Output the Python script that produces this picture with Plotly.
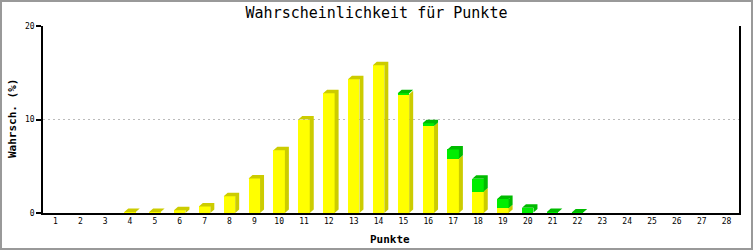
import plotly.graph_objects as go

# ---------------- data ----------------
punkte = list(range(1, 29))
gelb = [0, 0, 0, 0.1, 0.1, 0.3, 0.7, 1.8, 3.7, 6.7, 10.0, 12.8, 14.3, 15.8,
        12.7, 9.3, 5.8, 2.3, 0.5, 0.05, 0, 0, 0, 0, 0, 0, 0, 0]
gruen = [0, 0, 0, 0, 0, 0, 0, 0, 0, 0, 0, 0, 0, 0,
         0.1, 0.3, 1.0, 1.35, 1.0, 0.5, 0.1, 0.05, 0, 0, 0, 0, 0, 0]
y_ticks = [0, 10, 20]

# ---------------- layout constants ----------------
W, H = 753, 250
L, R, T, B = 43, 14, 26, 37
PW, PH = W - L - R, H - T - B
XMIN, XMAX = 0.5, 28.5
YMIN, YMAX = 0, 20
px_x = PW / (XMAX - XMIN)
px_y = PH / (YMAX - YMIN)

BW = 11.5 / px_x          # front face width
HW = BW / 2
DX = 4 / px_x             # depth offset
DY = 3.5 / px_y

FONT = "DejaVu Sans Mono"
YEL, YEL_D = "#FFFF00", "#CCCC00"
GRN, GRN_D = "#00EE00", "#00BB00"


def side(x, y0, y1, xs, ys):
    xs += [x + HW, x + HW + DX, x + HW + DX, x + HW, x + HW, None]
    ys += [y0, y0 + DY, y1 + DY, y1, y0, None]


def top(x, y, xs, ys):
    xs += [x - HW, x - HW + DX, x + HW + DX, x + HW, x - HW, None]
    ys += [y, y + DY, y + DY, y, y, None]


ys_x, ys_y, gs_x, gs_y = [], [], [], []
for x, g, gr in zip(punkte, gelb, gruen):
    if g > 0:
        side(x, 0, g, ys_x, ys_y)
        if gr == 0:
            top(x, g, ys_x, ys_y)
    if gr > 0:
        side(x, g, g + gr, gs_x, gs_y)
        top(x, g + gr, gs_x, gs_y)

fig = go.Figure()
fig.add_trace(go.Bar(x=punkte, y=gelb, width=BW, marker_color=YEL,
                     marker_line_width=0, hoverinfo="skip", showlegend=False))
fig.add_trace(go.Bar(x=punkte, y=gruen, width=BW, marker_color=GRN,
                     marker_line_width=0, hoverinfo="skip", showlegend=False))
fig.add_trace(go.Scatter(x=ys_x, y=ys_y, mode="lines", fill="toself",
                         fillcolor=YEL_D, line=dict(width=0, color=YEL_D),
                         hoverinfo="skip", showlegend=False))
fig.add_trace(go.Scatter(x=gs_x, y=gs_y, mode="lines", fill="toself",
                         fillcolor=GRN_D, line=dict(width=0, color=GRN_D),
                         hoverinfo="skip", showlegend=False))


def paper_x(px):
    return (px - L) / PW


def paper_y(py):
    return (H - B - py) / PH


fig.update_layout(
    width=W, height=H,
    margin=dict(l=L, r=R, t=T, b=B, pad=0),
    barmode="stack",
    bargap=0,
    paper_bgcolor="white", plot_bgcolor="white",
    font=dict(family=FONT, color="black", size=8),
    title=dict(text="Wahrscheinlichkeit für Punkte", x=0.5, xanchor="center",
               y=1 - 13 / H, yanchor="middle",
               font=dict(family=FONT, size=15, color="black")),
    xaxis=dict(range=[XMIN, XMAX], tickmode="array", tickvals=punkte,
               ticktext=[str(p) for p in punkte], showgrid=False,
               showline=True, linecolor="black", linewidth=1.5, ticks="",
               zeroline=False, mirror=False, tickfont=dict(size=8, family=FONT),
               fixedrange=True),
    yaxis=dict(range=[YMIN, YMAX], tickmode="array", tickvals=y_ticks,
               ticktext=[str(v) for v in y_ticks], showgrid=True,
               gridcolor="#BBBBBB", griddash="2px,3px", gridwidth=1,
               showline=True, linecolor="black", linewidth=1.5, mirror=True,
               ticks="outside", ticklen=5, tickwidth=1.5, tickcolor="black",
               zeroline=False, tickfont=dict(size=8, family=FONT),
               fixedrange=True),
    annotations=[
        dict(text="<b>Punkte</b>", xref="paper", yref="paper",
             x=paper_x(390), y=paper_y(239), xanchor="center", yanchor="middle",
             showarrow=False, font=dict(family=FONT, size=11, color="black")),
        dict(text="<b>Wahrsch. (%)</b>", xref="paper", yref="paper",
             x=paper_x(12), y=paper_y(119), xanchor="center", yanchor="middle",
             textangle=-90, showarrow=False,
             font=dict(family=FONT, size=11, color="black")),
    ],
    shapes=[
        dict(type="rect", xref="paper", yref="paper",
             x0=paper_x(1), x1=paper_x(W - 1), y0=paper_y(1), y1=paper_y(H - 1),
             line=dict(color="#999999", width=2), fillcolor="rgba(0,0,0,0)",
             layer="above"),
    ],
)

fig.write_html("out.html")
